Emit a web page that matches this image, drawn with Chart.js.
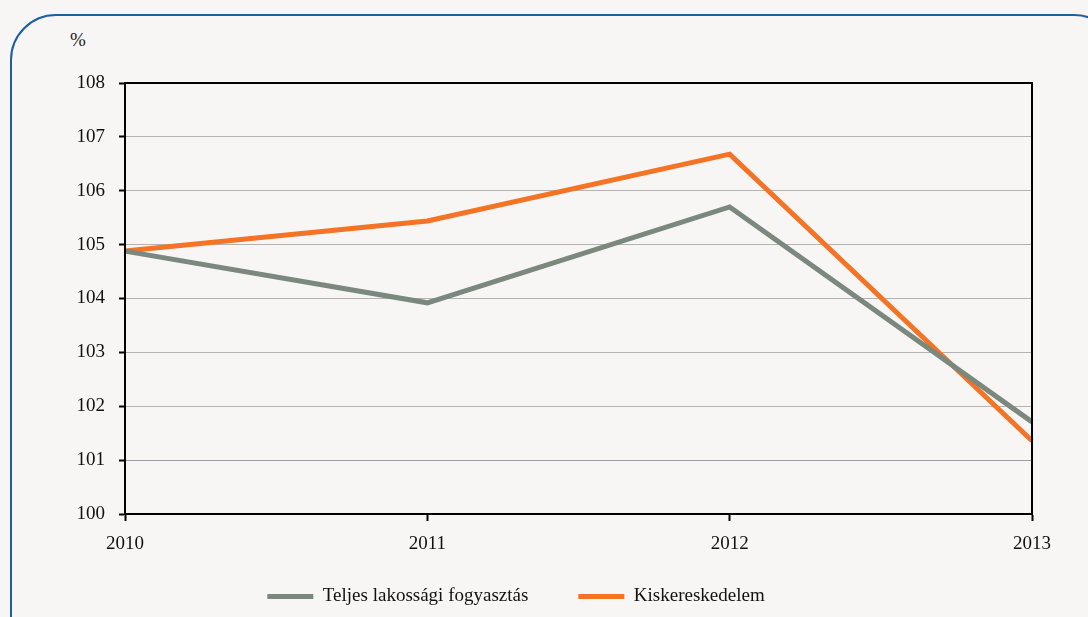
<!DOCTYPE html>
<html>
<head>
<meta charset="utf-8">
<script src="https://cdn.jsdelivr.net/npm/chart.js@4.4.0/dist/chart.umd.min.js"></script>
<style>
  html, body { margin: 0; padding: 0; background: #f7f6f5; overflow: hidden; }
  #wrap { position: relative; width: 1088px; height: 617px; }
  #keret {
    position: absolute; left: 10px; top: 14px; width: 1110px; height: 650px;
    border: 2px solid #1d5f9f; border-radius: 46px; box-sizing: border-box;
  }
  #egyseg {
    position: absolute; left: 70px; top: 29px;
    font: 19px "Liberation Serif", serif; color: #222;
  }
  canvas { position: absolute; left: 0; top: 0; }
</style>
</head>
<body>
<div id="wrap">
  <div id="keret"></div>
  <div id="egyseg">%</div>
  <canvas id="grafikon" width="1088" height="617"></canvas>
</div>
<script>
// Adatok
const evek = ['2010', '2011', '2012', '2013'];
const fogyasztas = [104.88, 103.92, 105.7, 101.71]; // Teljes lakossági fogyasztás
const kiskereskedelem = [104.88, 105.44, 106.68, 101.36]; // Kiskereskedelem
const yMin = 100;
const yMax = 108;

const betu = { family: '"Liberation Serif", serif', size: 19 };

// keret a rajzterület köré (felső és jobb oldali fekete vonal)
const keretPlugin = {
  id: 'keret',
  afterLayout(chart) {
    // az x tengely feliratai ne vágódjanak le a jelmagyarázat fölött
    chart.scales.x.bottom = chart.height;
  },
  afterDraw(chart) {
    const { ctx, chartArea: a } = chart;
    ctx.save();
    ctx.strokeStyle = '#000';
    ctx.lineWidth = 2;
    ctx.strokeRect(a.left, a.top, a.right - a.left, a.bottom - a.top);
    ctx.restore();
  },
};

const ctx = document.getElementById('grafikon').getContext('2d');
const grafikon = new Chart(ctx, {
  type: 'line',
  data: {
    labels: evek,
    datasets: [
      {
        label: 'Teljes lakossági fogyasztás',
        data: fogyasztas,
        borderColor: '#7a887e',
        backgroundColor: '#7a887e',
        borderWidth: 5,
        pointRadius: 0,
        pointStyle: 'line',
        tension: 0,
      },
      {
        label: 'Kiskereskedelem',
        data: kiskereskedelem,
        borderColor: '#f47324',
        backgroundColor: '#f47324',
        borderWidth: 5,
        pointRadius: 0,
        pointStyle: 'line',
        tension: 0,
      },
    ],
  },
  options: {
    responsive: false,
    animation: false,
    layout: { padding: { left: 0, top: 83, right: 56, bottom: 1 } },
    plugins: {
      tooltip: { enabled: false },
      legend: {
        position: 'bottom',
        labels: {
          font: betu,
          color: '#111',
          usePointStyle: true,
          pointStyleWidth: 46,
          boxHeight: 5,
          padding: 50,
        },
      },
    },
    scales: {
      x: {
        offset: false,
        border: { color: '#000', width: 2 },
        grid: { drawOnChartArea: false, drawTicks: true, tickLength: 7, tickColor: '#000', tickWidth: 2 },
        ticks: { font: betu, color: '#111', padding: 12, maxRotation: 0 },
        afterFit(scale) { scale.height = 23; },
      },
      y: {
        min: yMin,
        max: yMax,
        border: { color: '#000', width: 2 },
        grid: {
          color: (c) => (c.tick && c.tick.value === 101 ? '#9c9cae' : '#b3b3b3'),
          lineWidth: 1,
          tickLength: 6,
          tickColor: '#000',
          tickWidth: 2,
        },
        ticks: { stepSize: 1, font: betu, color: '#111', padding: 14 },
        afterFit(scale) { scale.width = 125; },
      },
    },
  },
  plugins: [keretPlugin],
});
</script>
</body>
</html>
